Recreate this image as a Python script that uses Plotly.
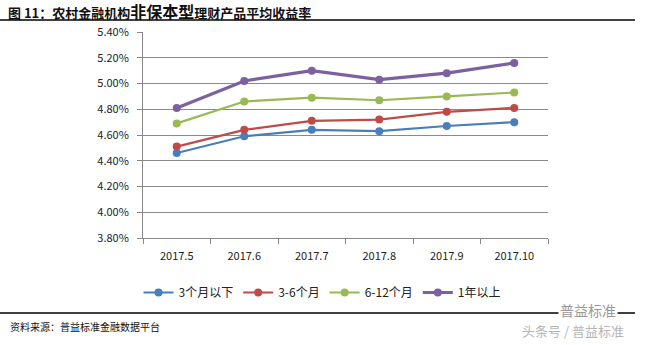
import plotly.graph_objects as go

categories = ["2017.5", "2017.6", "2017.7", "2017.8", "2017.9", "2017.10"]
series_names = ["3个月以下", "3-6个月", "6-12个月", "1年以上"]
s_3m = [4.46, 4.59, 4.64, 4.63, 4.67, 4.70]
s_3_6m = [4.51, 4.64, 4.71, 4.72, 4.78, 4.81]
s_6_12m = [4.69, 4.86, 4.89, 4.87, 4.90, 4.93]
s_1y = [4.81, 5.02, 5.10, 5.03, 5.08, 5.16]
y_ticks = [3.8, 4.0, 4.2, 4.4, 4.6, 4.8, 5.0, 5.2, 5.4]

colors = ["#4A7EBB", "#BE4B48", "#98B954", "#7D60A0"]
widths = [2.2, 2.2, 2.2, 3.2]
all_series = [s_3m, s_3_6m, s_6_12m, s_1y]

W, H = 647, 345
L, R, T, B = 143, 548, 32, 238


def py(pix):
    return (B - pix) / (B - T)


def px(pix):
    return (pix - L) / (R - L)


fig = go.Figure()
for name, vals, c, w in zip(series_names, all_series, colors, widths):
    fig.add_trace(go.Scatter(
        x=categories, y=vals, name=name, mode="lines+markers",
        line=dict(color=c, width=w),
        marker=dict(color=c, size=8, symbol="circle"),
    ))

fig.update_layout(
    width=W, height=H,
    margin=dict(l=L, r=W - R, t=T, b=H - B, pad=0),
    paper_bgcolor="white", plot_bgcolor="white",
    font=dict(family="Noto Sans CJK SC, Noto Sans, sans-serif", size=11, color="#222"),
    showlegend=True,
    legend=dict(orientation="h", x=px(322), xanchor="center", y=py(278), yanchor="top",
                font=dict(size=12, color="#222"), itemwidth=30,
                traceorder="normal"),
    xaxis=dict(type="category", showgrid=False, showline=True, linecolor="#888",
               linewidth=1, ticks="outside", ticklen=5, tickcolor="#888",
               tickson="boundaries", tickfont=dict(size=11, color="#222"),
               ticklabelstandoff=8,
               range=[-0.5, 5.5]),
    yaxis=dict(range=[3.8, 5.4], tickvals=y_ticks,
               ticktext=[f"{v:.2f}%" for v in y_ticks],
               showgrid=True, gridcolor="#8a8a8a", gridwidth=1,
               showline=True, linecolor="#888", linewidth=1,
               ticks="outside", ticklen=5, tickcolor="#888",
               ticklabelstandoff=6,
               tickfont=dict(size=11, color="#222"), zeroline=False),
)

# Title
fig.add_annotation(
    xref="paper", yref="paper", x=px(6), y=py(11),
    text="<b>图 11：农村金融机构<span style='font-size:16px'>非保本型</span>理财产品平均收益率</b>",
    showarrow=False, xanchor="left", yanchor="middle",
    font=dict(size=13, color="#111"),
)

# Lines under title and above source
fig.add_shape(type="line", xref="paper", yref="paper",
              x0=px(0), x1=px(635), y0=py(20), y1=py(20),
              line=dict(color="#000", width=1.5))
fig.add_shape(type="line", xref="paper", yref="paper",
              x0=px(0), x1=px(635), y0=py(313), y1=py(313),
              line=dict(color="#000", width=1.5))

fig.add_annotation(xref="paper", yref="paper", x=px(8), y=py(326),
                   text="资料来源：普益标准金融数据平台", showarrow=False,
                   xanchor="left", yanchor="middle",
                   font=dict(size=10, color="#111"))
# Watermark
fig.add_annotation(xref="paper", yref="paper", x=px(588), y=py(310),
                   text="普益标准", showarrow=False, xanchor="center", yanchor="middle",
                   bgcolor="white", font=dict(size=14, color="#999"))
fig.add_annotation(xref="paper", yref="paper", x=px(573), y=py(330),
                   text="头条号 / 普益标准", showarrow=False, xanchor="center", yanchor="middle",
                   font=dict(size=13, color="#b5b5b5"))

fig.write_html("out.html")
